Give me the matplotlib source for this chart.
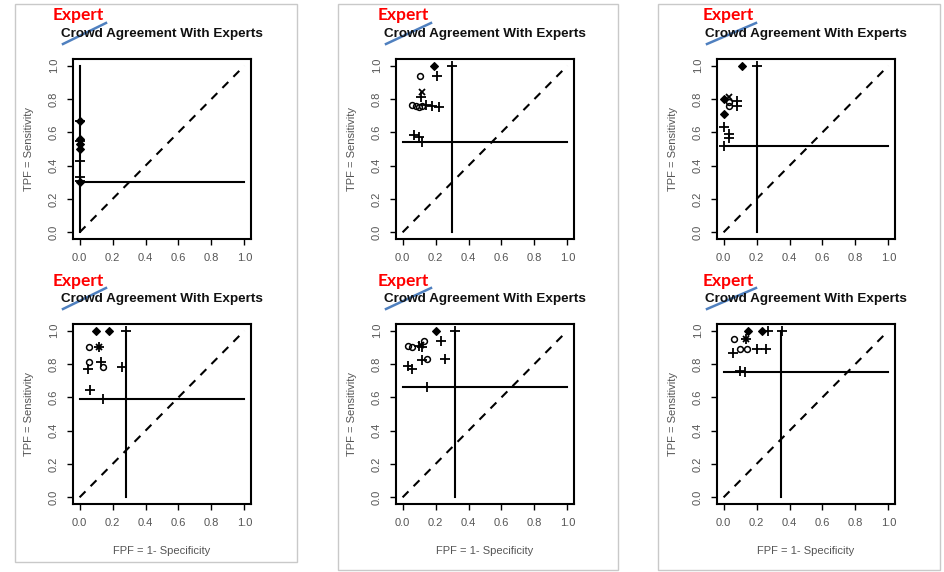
import matplotlib
matplotlib.use("Agg")
import matplotlib.pyplot as plt
from matplotlib.patches import Rectangle
from matplotlib.lines import Line2D

plt.rcParams["font.family"] = ["Liberation Sans", "DejaVu Sans"]

# --- DATA: one entry per panel (top row left->right, then bottom row) ---
cut_fpf = [0.00, 0.30, 0.20, 0.28, 0.32, 0.35]
cut_tpf = [0.30, 0.54, 0.52, 0.59, 0.66, 0.75]

diamond_pts = [
    [(0.0, 0.67), (0.0, 0.56), (0.0, 0.53), (0.0, 0.50), (0.0, 0.30)],
    [(0.19, 1.0)],
    [(0.11, 1.0), (0.0, 0.80), (0.0, 0.71)],
    [(0.10, 1.0), (0.18, 1.0)],
    [(0.205, 1.0)],
    [(0.15, 1.0), (0.23, 1.0)],
]
plus_pts = [
    [(0.0, 0.67), (0.0, 0.55), (0.0, 0.43), (0.0, 0.33), (0.0, 0.31)],
    [(0.30, 1.0), (0.21, 0.935), (0.11, 0.81), (0.14, 0.765), (0.18, 0.755),
     (0.22, 0.75), (0.07, 0.585), (0.10, 0.57), (0.12, 0.54)],
    [(0.20, 1.0), (0.08, 0.785), (0.08, 0.755), (0.0, 0.63), (0.035, 0.59),
     (0.035, 0.565), (0.0, 0.52)],
    [(0.28, 1.0), (0.12, 0.90), (0.05, 0.77), (0.13, 0.81), (0.26, 0.78),
     (0.065, 0.645), (0.145, 0.59)],
    [(0.32, 1.0), (0.23, 0.94), (0.10, 0.91), (0.12, 0.90), (0.12, 0.825),
     (0.26, 0.83), (0.035, 0.79), (0.055, 0.77), (0.15, 0.665)],
    [(0.27, 1.0), (0.355, 1.0), (0.20, 0.89), (0.26, 0.89), (0.06, 0.865),
     (0.10, 0.76), (0.13, 0.75), (0.135, 0.95)],
]
circle_pts = [
    [],
    [(0.105, 0.935), (0.055, 0.765), (0.08, 0.755), (0.10, 0.75), (0.12, 0.76)],
    [(0.035, 0.78), (0.035, 0.755)],
    [(0.055, 0.90), (0.06, 0.81), (0.145, 0.78)],
    [(0.035, 0.91), (0.055, 0.905), (0.13, 0.94), (0.15, 0.83)],
    [(0.065, 0.95), (0.10, 0.89), (0.14, 0.89)],
]
cross_pts = [
    [],
    [(0.115, 0.84)],
    [(0.035, 0.81)],
    [(0.12, 0.90)],
    [(0.11, 0.915)],
    [(0.135, 0.95)],
]

title = "Crowd Agreement With Experts"
stamp = "Expert"
xlab = "FPF = 1- Specificity"
ylab = "TPF = Sensitivity"
ticks = [0.0, 0.2, 0.4, 0.6, 0.8, 1.0]

# --- LAYOUT (pixels) ---
W, H = 944, 572
col_left = [73, 396, 717]
col_box = [(15, 4, 297, 562), (338, 4, 618, 570), (658, 4, 940, 570)]
stamp_left = [53, 378, 703]
row_top = [59, 324]
ax_w, ax_h = 178, 180
tick_grey = "#555555"

fig = plt.figure(figsize=(W / 100, H / 100), dpi=100)
fig.patch.set_facecolor("white")

def fx(x):
    return x / W

def fy(y):
    return 1 - y / H

# light frames around each column of panels
for (l, t, r, b) in col_box:
    fig.add_artist(Rectangle((fx(l), fy(b)), fx(r - l), (b - t) / H,
                             transform=fig.transFigure, fill=False,
                             edgecolor="#c9c9c9", linewidth=1.0))

def pts_xy(pts):
    return [p[0] for p in pts], [p[1] for p in pts]

for i in range(6):
    row, col = divmod(i, 3)
    left, top = col_left[col], row_top[row]
    ax = fig.add_axes([fx(left), fy(top + ax_h), ax_w / W, ax_h / H])
    ax.set_xlim(-0.04, 1.04)
    ax.set_ylim(-0.04, 1.04)

    # chance diagonal and operating-point cross hairs
    ax.plot([0, 1], [0, 1], color="black", linestyle=(0, (4, 3.5)), linewidth=1.5)
    ax.plot([cut_fpf[i], cut_fpf[i]], [0, 1], color="black", linewidth=1.5)
    ax.plot([0, 1], [cut_tpf[i], cut_tpf[i]], color="black", linewidth=1.5)

    x, y = pts_xy(plus_pts[i])
    ax.plot(x, y, linestyle="none", marker="+", markersize=7, mew=1.3, color="black")
    if circle_pts[i]:
        x, y = pts_xy(circle_pts[i])
        ax.plot(x, y, linestyle="none", marker="o", markersize=4.2, mew=1.1,
                mfc="none", color="black")
    if cross_pts[i]:
        x, y = pts_xy(cross_pts[i])
        ax.plot(x, y, linestyle="none", marker="x", markersize=5, mew=1.3, color="black")
    x, y = pts_xy(diamond_pts[i])
    ax.plot(x, y, linestyle="none", marker="D", markersize=4.3, mew=0.8, color="black")

    for s in ax.spines.values():
        s.set_linewidth(1.5)
    ax.set_xticks(ticks)
    ax.set_yticks(ticks)
    ax.set_xticklabels([f"{t:.1f}" for t in ticks])
    ax.set_yticklabels([f"{t:.1f}" for t in ticks], rotation=90, va="center")
    ax.tick_params(direction="out", length=4, width=1.0, labelsize=8,
                   labelcolor=tick_grey, color="black", pad=6)
    ax.set_ylabel(ylab, fontsize=8, color=tick_grey, labelpad=11)
    if row == 1:
        ax.set_xlabel(xlab, fontsize=8, color=tick_grey, labelpad=13)

    # panel heading
    cx = left + ax_w / 2
    ty = 34 if row == 0 else 299
    fig.text(fx(cx), fy(ty), title, ha="center", va="center", fontsize=9.7,
             fontweight="bold", color="#111111")
    sy = 15 if row == 0 else 281
    fig.text(fx(stamp_left[col]), fy(sy), stamp, ha="left", va="center",
             fontsize=12.5, fontweight="bold", family="Lato", color="#ff0000")
    # blue slash drawn across the start of the heading
    x0 = cx - 99
    y0 = ty + 10
    fig.add_artist(Line2D([fx(x0), fx(stamp_left[col] + 53)], [fy(y0), fy(y0 - 21)],
                          transform=fig.transFigure, color="#3c72b8",
                          linewidth=1.8, alpha=0.9))

fig.savefig("out.png", dpi=100, facecolor="white")
